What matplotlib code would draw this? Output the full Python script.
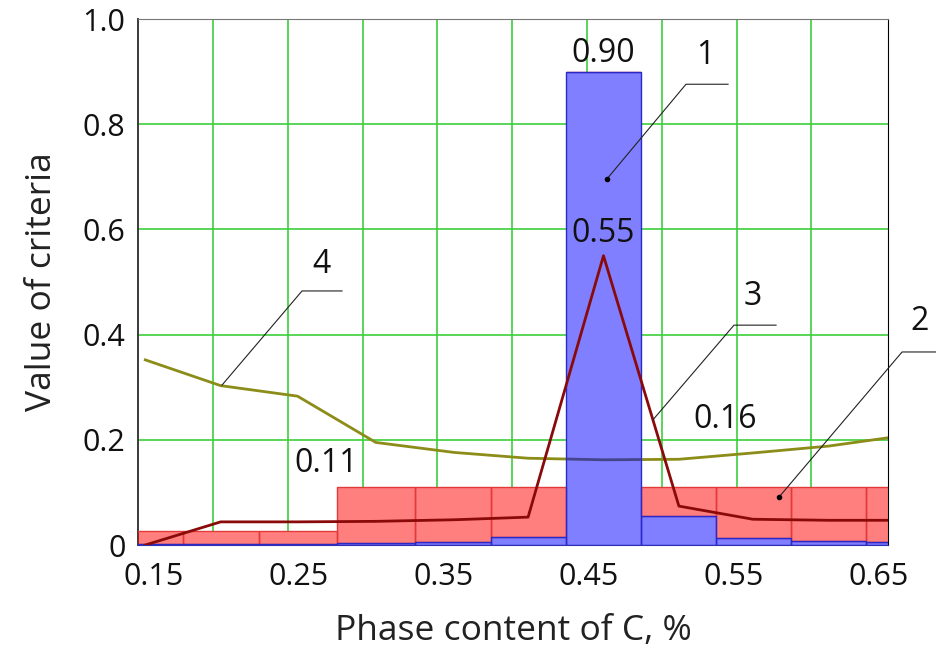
"""Criteria values vs phase content of C: bars for criteria 1-2, lines for 3-4."""

import numpy as np
import matplotlib
matplotlib.use("Agg")
import matplotlib.pyplot as plt

# phase content of C, % (bar centres / line vertices)
X_C = [0.144, 0.196, 0.249, 0.303, 0.357, 0.408, 0.460, 0.512, 0.563, 0.615, 0.667]
CRIT1 = [0.002, 0.002, 0.002, 0.003, 0.005, 0.015, 0.90, 0.055, 0.013, 0.008, 0.005]
CRIT2 = [0.027, 0.027, 0.027, 0.11, 0.11, 0.11, 0.11, 0.11, 0.11, 0.11, 0.11]
CRIT3 = [0.0, 0.044, 0.044, 0.045, 0.048, 0.053, 0.55, 0.074, 0.049, 0.047, 0.047]
CRIT4 = [0.352, 0.303, 0.283, 0.195, 0.176, 0.165, 0.162, 0.163, 0.175, 0.188, 0.208]

X_TICKS = [0.15, 0.25, 0.35, 0.45, 0.55, 0.65]
X_TICK_LABELS = ["0.15", "0.25", "0.35", "0.45", "0.55", "0.65"]
Y_TICKS = [0.0, 0.2, 0.4, 0.6, 0.8, 1.0]
Y_TICK_LABELS = ["0", "0.2", "0.4", "0.6", "0.8", "1.0"]

GREEN = "#3ccf3c"
RED_LINE = "#8a0a0a"
OLIVE = "#8c8c18"
INK = "#111111"
FS_NUM = 23


def leader(ax, pt, elbow, end, label, text_xy, dot=True):
    ax.plot([pt[0], elbow[0], end[0]], [pt[1], elbow[1], end[1]],
            color="#222222", lw=0.8, zorder=6, clip_on=False)
    if dot:
        ax.plot(*pt, "o", color="black", ms=3, zorder=7)
    ax.text(*text_xy, label, fontsize=FS_NUM, color=INK, ha="center",
            va="center", zorder=7, clip_on=False)


def main():
    plt.rcParams["font.family"] = ["Open Sans", "DejaVu Sans"]
    fig = plt.figure(figsize=(9.37, 6.51), dpi=100)
    ax = fig.add_axes([0.1473, 0.1628, 0.8004, 0.8080])

    x = np.asarray(X_C)
    c1 = np.asarray(CRIT1)
    c2 = np.asarray(CRIT2)
    mid = (x[1:] + x[:-1]) / 2
    edges = np.concatenate([[x[0] - (mid[0] - x[0])], mid,
                            [x[-1] + (x[-1] - mid[-1])]])
    widths = np.diff(edges)

    # green grid (not aligned with the tick labels)
    for gx in np.linspace(0.1907, 0.6034, 9):
        ax.axvline(gx, color=GREEN, lw=1.2, zorder=0)
    for gy in Y_TICKS[1:-1]:
        ax.axhline(gy, color=GREEN, lw=1.2, zorder=0)

    # bars hide the grid, but criterion 4 shows through the blue bar
    ax.bar(edges[:-1], np.maximum(c1, c2), width=widths, align="edge",
           color="white", lw=0, zorder=1)
    ax.plot(x, CRIT4, color=OLIVE, lw=2.0, zorder=2)
    ax.bar(edges[:-1], np.clip(c2 - c1, 0, None), width=widths, bottom=c1,
           align="edge", facecolor=(1, 0, 0, 0.5), edgecolor="#e23a3a",
           lw=1.0, zorder=3)
    ax.bar(edges[:-1], c1, width=widths, align="edge",
           facecolor=(0, 0, 1, 0.5), edgecolor="#2a2ac8", lw=1.0, zorder=3)
    ax.plot(x, CRIT3, color=RED_LINE, lw=2.0, zorder=4)

    # value labels
    i1 = int(np.argmax(c1))
    ax.annotate(f"{c1[i1]:.2f}", (x[i1], c1[i1]), xytext=(0, 13),
                textcoords="offset points", ha="center", va="center",
                fontsize=FS_NUM, color=INK, zorder=7)
    i3 = int(np.argmax(CRIT3))
    ax.annotate(f"{CRIT3[i3]:.2f}", (x[i3], CRIT3[i3]), xytext=(0, 16),
                textcoords="offset points", ha="center", va="center",
                fontsize=FS_NUM, color=INK, zorder=7)
    ax.text(0.2686, 0.155, f"{CRIT2[3]:.2f}", fontsize=FS_NUM, color=INK,
            ha="center", va="center", zorder=7)
    ax.text(0.5438, 0.238, f"{min(CRIT4):.2f}", fontsize=FS_NUM, color=INK,
            ha="center", va="center", zorder=7)

    # numbered leaders
    leader(ax, (0.4624, 0.696), (0.5169, 0.876), (0.5459, 0.876), "1",
           (0.530, 0.930))
    leader(ax, (0.581, 0.091), (0.6659, 0.367), (0.695, 0.367), "2",
           (0.678, 0.424))
    leader(ax, (0.4941, 0.238), (0.550, 0.418), (0.579, 0.418), "3",
           (0.5631, 0.473), dot=False)
    leader(ax, (0.1969, 0.304), (0.2521, 0.483), (0.2797, 0.483), "4",
           (0.2652, 0.534), dot=False)

    ax.set_xlim(0.139, 0.6562)
    ax.set_ylim(0, 1.0)
    ax.set_xticks(X_TICKS)
    ax.set_xticklabels(X_TICK_LABELS)
    ax.set_yticks(Y_TICKS)
    ax.set_yticklabels(Y_TICK_LABELS)
    ax.tick_params(which="both", length=0)
    ax.tick_params(axis="x", labelsize=22, pad=12, colors=INK)
    ax.tick_params(axis="y", labelsize=22, pad=9, colors=INK)

    ax.spines["left"].set_color("#3a3a3a")
    ax.spines["left"].set_linewidth(1.4)
    ax.spines["top"].set_color("#777777")
    ax.spines["right"].set_color("#000000")
    ax.spines["bottom"].set_color("#3030b0")

    ax.set_xlabel("Phase content of C, %", fontsize=25.5, color="#222222",
                  labelpad=16)
    ax.set_ylabel("Value of criteria", fontsize=25.5, color="#222222",
                  labelpad=17)

    fig.savefig("out.png", dpi=100)


if __name__ == "__main__":
    main()
